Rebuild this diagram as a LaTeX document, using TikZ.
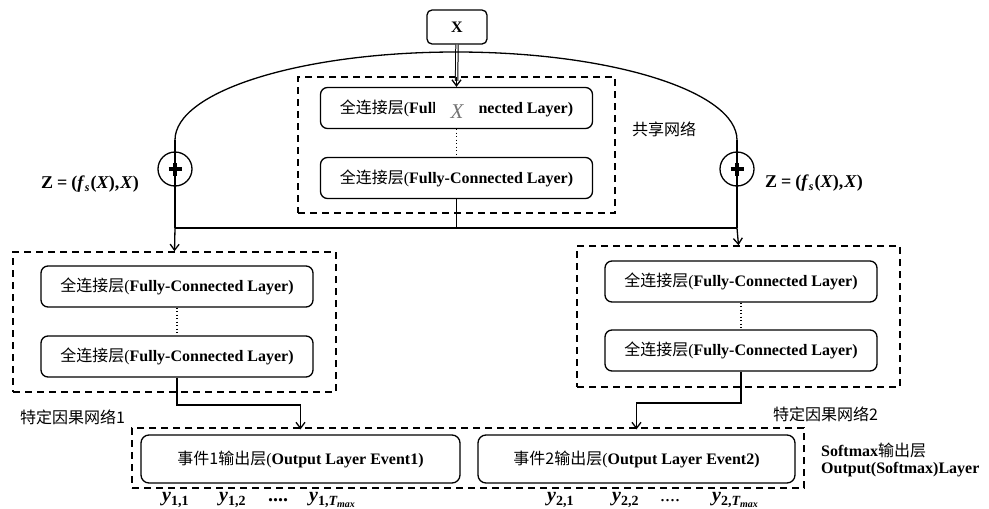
\documentclass[tikz,border=0pt]{standalone}
\usepackage{fontspec}
\setmainfont{Liberation Serif}
\newfontfamily\cjk{Noto Sans CJK SC}
\usetikzlibrary{arrows.meta}
\tikzset{
  ln/.style={line width=1.3pt},
  arr/.style={ln,-{Straight Barb[length=6pt,width=9pt,line width=1.3pt]}},
  fcbox/.style={draw,line width=1.3pt,rounded corners=7pt,minimum width=272pt,minimum height=41pt,inner sep=0pt,font=\fontsize{16}{18}\selectfont},
  outbox/.style={draw,line width=1.3pt,rounded corners=8pt,minimum height=48pt,inner sep=0pt,font=\fontsize{16}{18}\selectfont},
  dbox/.style={draw,line width=1.5pt,dash pattern=on 7pt off 5pt},
  dotln/.style={line width=1.2pt,dash pattern=on 1.3pt off 2.2pt},
  lbl/.style={font=\fontsize{16}{18}\selectfont,inner sep=0pt},
  ylbl/.style={font=\fontsize{20}{22}\selectfont\bfseries\itshape,inner sep=0pt,anchor=base west},
  dotlbl/.style={font=\fontsize{20}{22}\selectfont,inner sep=0pt,anchor=base west},
  pluscirc/.style={draw,circle,line width=1.3pt,minimum size=34pt,inner sep=0pt},
}
\newcommand{\fctext}{{\cjk 全连接层}(\textbf{Fully-Connected Layer)}}
\newcommand{\ysb}[1]{\raisebox{-4pt}{\fontsize{14}{16}\selectfont\upshape #1}}
\newcommand{\ysbt}[1]{\raisebox{-4pt}{\fontsize{14}{16}\selectfont\upshape #1,\itshape T\raisebox{-2.5pt}{\fontsize{10}{12}\selectfont max}}}
\newcommand{\zlabel}{Z\kern4pt=\kern4pt(\textit{f}\raisebox{-3pt}{\fontsize{12}{14}\selectfont\itshape s}\kern1pt(\textit{X}),\kern1pt\textit{X})}
\begin{document}
\begin{tikzpicture}[x=1pt,y=-1pt]
\useasboundingbox (0,0) rectangle (989,509);
% input
\node[draw,line width=1.3pt,rounded corners=5pt,minimum width=60pt,minimum height=34pt,inner sep=0pt,font=\fontsize{16}{18}\selectfont\bfseries] (X) at (457,27) {X};
% shared network
\node[dbox,minimum width=317pt,minimum height=136pt] (S) at (456.5,145) {};
\node[fcbox] (s1) at (456.5,108) {\fctext};
\node[fcbox] (s2) at (456.5,178) {\fctext};
\node[fill=white,inner sep=0pt,minimum width=44pt,minimum height=26pt,text=black!55,font=\fontsize{21}{23}\selectfont\itshape] (xm) at (457,112) {X};
\draw[dotln] (s1.south) -- (s2.north);
\node[lbl,anchor=west] (sharelbl) at (632,129) {\cjk 共享网络};
% X to shared
\draw[line width=1pt,double distance=1.4pt,shorten >=6pt] (X.south) -- (s1.north);
\draw[arr] ([yshift=10pt]s1.north) -- (s1.north);
% arc and side branches
\coordinate (aL) at (175,140);
\coordinate (aR) at (737,140);
\draw[ln] (aL) arc[start angle=180,end angle=360,x radius=281,y radius=88];
\node[pluscirc] (c1) at (175,169) {};
\node[pluscirc] (c2) at (737,169) {};
\foreach \c in {c1,c2}{
  \draw[line width=3.2pt] ([xshift=-6.5pt]\c.center) -- ([xshift=6.5pt]\c.center);
  \draw[line width=3.6pt] ([yshift=-6.5pt]\c.center) -- ([yshift=6.5pt]\c.center);
}
\coordinate (jl) at (175,228);
\coordinate (jr) at (737,228);
\coordinate (jm) at (456.5,228);
\draw[ln] (aL) -- (jl);
\draw[ln] (aR) -- (jr);
\draw[ln] (jl) -- (jr);
\draw[ln] (s2.south) -- (jm);
\node[lbl,anchor=west,font=\fontsize{18}{20}\selectfont\bfseries] (zl) at (41,184) {\zlabel};
\node[lbl,anchor=west,font=\fontsize{18}{20}\selectfont\bfseries] (zr) at (765,183) {\zlabel};
% left specific network
\node[dbox,minimum width=323pt,minimum height=140pt] (L) at (174.5,322) {};
\node[fcbox] (l1) at (177,286.5) {\fctext};
\node[fcbox] (l2) at (177,356.5) {\fctext};
\draw[dotln] (l1.south) -- (l2.north);
\draw[arr] (jl) -- (L.north);
\node[lbl,anchor=west] (l1lbl) at (20,417) {\cjk 特定因果网络1};
% right specific network
\node[dbox,minimum width=323pt,minimum height=141pt] (R) at (738.5,316.5) {};
\node[fcbox] (r1) at (741,281.5) {\fctext};
\node[fcbox] (r2) at (741,350.5) {\fctext};
\draw[dotln] (r1.south) -- (r2.north);
\draw[arr] (jr) -- (R.north);
\node[lbl,anchor=west] (r2lbl) at (773,414) {\cjk 特定因果网络2};
% output layer
\node[dbox,minimum width=672pt,minimum height=60pt] (O) at (468,458) {};
\node[outbox,minimum width=319pt] (o1) at (300.5,459) {{\cjk 事件1输出层}(\textbf{Output Layer Event1)}};
\node[outbox,minimum width=317pt] (o2) at (636.5,459) {{\cjk 事件2输出层}(\textbf{Output Layer Event2)}};
\draw[arr] (l2.south) -- (l2.south |- 0,405) -| ([yshift=5pt]o1.north);
\draw[arr] (r2.south) -- (r2.south |- 0,403) -| ([yshift=5pt]o2.north);
\node[lbl,anchor=west,font=\fontsize{16}{18}\selectfont\bfseries] (sm1) at (821,450) {Softmax{\cjk\mdseries 输出层}};
\node[lbl,anchor=west,font=\fontsize{16}{18}\selectfont\bfseries] (sm2) at (821,470) {Output(Softmax)Layer};
% y labels
\node[ylbl] (y11) at (162,501) {y\ysb{1,1}};
\node[ylbl] (y12) at (219,501) {y\ysb{1,2}};
\node[dotlbl,font=\fontsize{20}{22}\selectfont\bfseries] (d1) at (268,501) {....};
\node[ylbl] (y1t) at (309,501) {y\ysbt{1}};
\node[ylbl] (y21) at (547,501) {y\ysb{2,1}};
\node[ylbl] (y22) at (612,501) {y\ysb{2,2}};
\node[dotlbl] (d2) at (660,501) {....};
\node[ylbl] (y2t) at (712,501) {y\ysbt{2}};
\end{tikzpicture}
\end{document}
